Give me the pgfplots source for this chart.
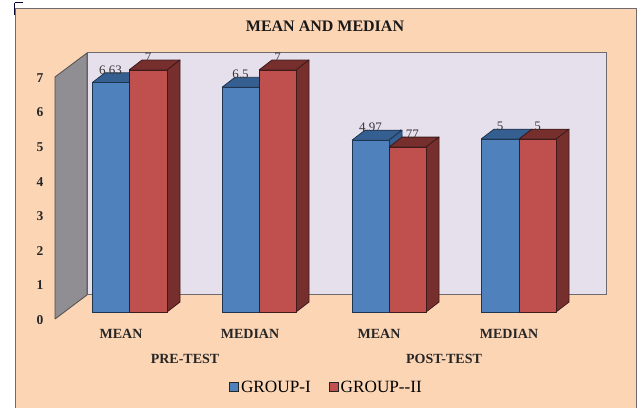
\documentclass[border=0pt]{standalone}
\usepackage{fontspec}
\setmainfont{Liberation Serif}
\usepackage{pgfplots}
\pgfplotsset{compat=1.18}
\definecolor{panel}{HTML}{FCD5B5}
\definecolor{backwall}{HTML}{E6E0EC}
\definecolor{sidewall}{HTML}{918E93}
\definecolor{wallline}{HTML}{6E6A6E}
\definecolor{blueface}{HTML}{4F81BD}
\definecolor{bluedark}{HTML}{365F91}
\definecolor{blueline}{HTML}{1E3550}
\definecolor{redface}{HTML}{C0504D}
\definecolor{reddark}{HTML}{772F2D}
\definecolor{redline}{HTML}{3E1A1A}
\definecolor{labelgrey}{HTML}{3A3638}

% A bar with a front, a top and a side face: left, right, value, face, dark, line
\newcommand{\solidbar}[6]{%
  \pgfmathsetmacro\xl{#1+13}%
  \pgfmathsetmacro\xr{#2+13}%
  \pgfmathsetmacro\yt{#3+0.289}%
  \edef\drawfaces{%
    \noexpand\addplot[forget plot,fill=#5,draw=#6,line width=0.8pt,line join=round]
      coordinates {(#1,#3)(\xl,\yt)(\xr,\yt)(#2,#3)(#1,#3)};
    \noexpand\addplot[forget plot,fill=#5,draw=#6,line width=0.8pt,line join=round]
      coordinates {(#2,0)(\xr,0.289)(\xr,\yt)(#2,#3)(#2,0)};
    \noexpand\addplot[forget plot,fill=#4,draw=#6,line width=0.8pt,line join=round]
      coordinates {(#1,0)(#2,0)(#2,#3)(#1,#3)(#1,0)};
  }%
  \drawfaces
}
% The value above a bar: centre of the bar, value
\newcommand{\barvalue}[2]{%
  \pgfmathsetmacro\yl{#2+0.37}%
  \edef\drawvalue{%
    \noexpand\node[text=labelgrey,font=\noexpand\fontsize{13}{15}\noexpand\selectfont,
      inner sep=0pt,anchor=center] at (axis cs:#1,\yl) {#2};}%
  \drawvalue
}

\begin{document}
\begin{tikzpicture}
\path[use as bounding box] (0,0) rectangle (639pt,408pt);
\begin{axis}[
  at={(0,0)}, anchor=south west,
  scale only axis, width=639pt, height=408pt,
  xmin=0, xmax=639, ymin=-2.777, ymax=9.025,
  clip=false,
  axis on top,
  axis line style={draw=none},
  major tick length=0pt,
  ytick={0,1,2,3,4,5,6,7},
  yticklabel style={font=\fontsize{13.5}{15}\selectfont\bfseries,anchor=center,
    xshift=40pt,yshift=-8pt,text=black!85},
  xtick={121,250,379,509},
  xticklabels={MEAN,MEDIAN,MEAN,MEDIAN},
  xticklabel style={font=\fontsize{14}{16}\selectfont\bfseries,anchor=center,
    yshift=74pt,text=black!85},
  /pgf/number format/assume math mode=true,
  legend style={draw=none,fill=none,at={(0.511,0.0495)},anchor=center,
    legend columns=2,font=\fontsize{17.2}{19}\selectfont,
    /tikz/every even column/.append style={column sep=16pt},
    inner sep=0pt},
  legend cell align=left,
  legend image code/.code={%
    \draw[#1,line width=0.9pt] (-1pt,-4pt) rectangle (8pt,5pt);},
]
% panel and walls
\addplot[forget plot,fill=panel,draw=wallline,line width=0.9pt]
  coordinates {(15,-2.777)(15,8.779)(636,8.779)(636,-2.777)};
\addplot[forget plot,fill=backwall,draw=wallline,line width=1pt]
  coordinates {(87,0.492)(87,7.492)(606,7.492)(606,0.492)(87,0.492)};
\addplot[forget plot,fill=sidewall,draw=black!70,line width=0.8pt,line join=round]
  coordinates {(55,-0.2025)(55,6.798)(87,7.492)(87,0.492)(55,-0.2025)};
\addplot[forget plot,draw=black!80!blue,line width=1.2pt]
  coordinates {(14.5,8.95)(23,8.95)};
\addplot[forget plot,draw=black!80!blue,line width=1.2pt]
  coordinates {(14.5,8.95)(14.5,8.6)};

% pre-test, mean
\solidbar{92}{129}{6.63}{blueface}{bluedark}{blueline}
\solidbar{129}{167}{7}{redface}{reddark}{redline}
\barvalue{110.5}{6.63}
\barvalue{148}{7}
% pre-test, median
\solidbar{222}{259}{6.5}{blueface}{bluedark}{blueline}
\solidbar{259}{296}{7}{redface}{reddark}{redline}
\barvalue{240.5}{6.5}
\barvalue{277.5}{7}
% post-test, mean
\barvalue{407.5}{4.77}
\solidbar{352}{389}{4.97}{blueface}{bluedark}{blueline}
\solidbar{389}{426}{4.77}{redface}{reddark}{redline}
\barvalue{370.5}{4.97}
% post-test, median
\solidbar{481}{519}{5}{blueface}{bluedark}{blueline}
\solidbar{519}{556}{5}{redface}{reddark}{redline}
\barvalue{500}{5}
\barvalue{537.5}{5}

\addlegendimage{fill=blueface,draw=black!85}
\addlegendentry{GROUP-I}
\addlegendimage{fill=redface,draw=black!85}
\addlegendentry{GROUP-{}-II}

\node[font=\fontsize{16}{18}\selectfont\bfseries,text=black!90,anchor=center]
  at (axis cs:325,8.28) {MEAN AND MEDIAN};
\node[font=\fontsize{14}{16}\selectfont\bfseries,text=black!85,anchor=center]
  at (axis cs:185,-1.36) {PRE-TEST};
\node[font=\fontsize{14}{16}\selectfont\bfseries,text=black!85,anchor=center]
  at (axis cs:444,-1.36) {POST-TEST};
\end{axis}
\end{tikzpicture}
\end{document}
